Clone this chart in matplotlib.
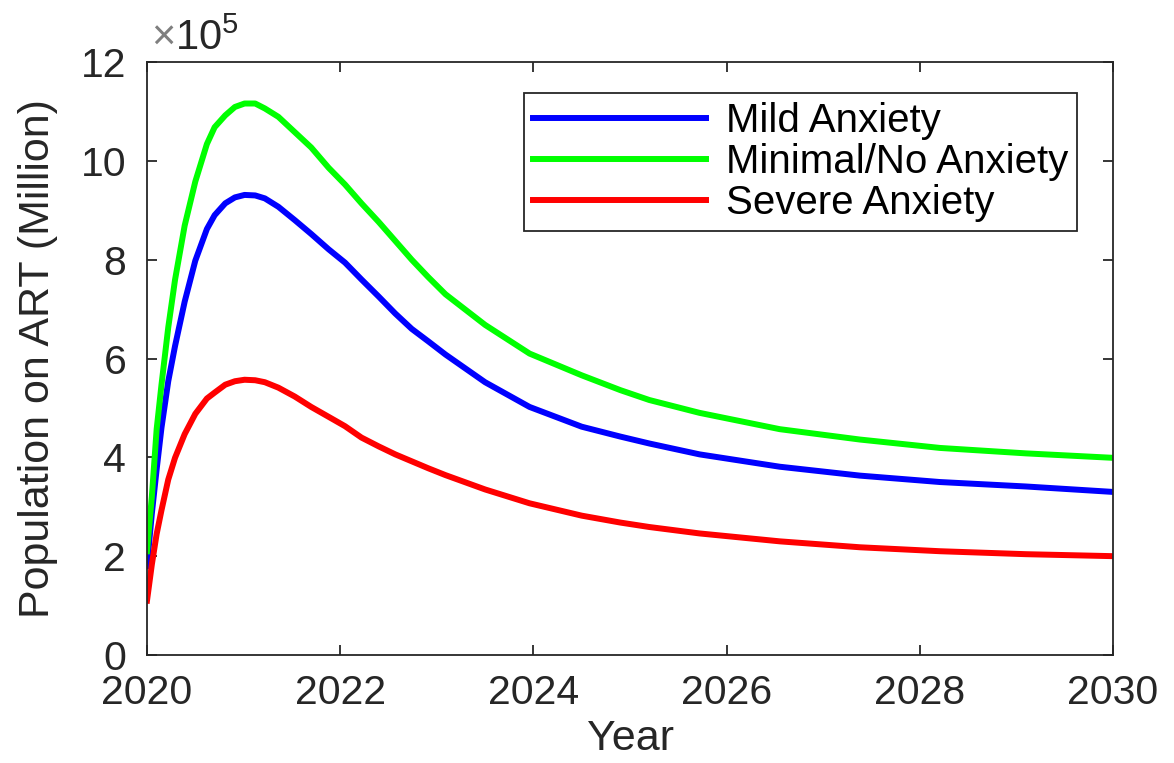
import matplotlib
matplotlib.use("Agg")
import matplotlib.pyplot as plt

plt.rcParams['font.family'] = ['Liberation Sans', 'DejaVu Sans']
plt.rcParams['mathtext.fontset'] = 'custom'
plt.rcParams['mathtext.rm'] = 'Liberation Sans'

# years sampled along the curves
years = [2020.0, 2020.05, 2020.1, 2020.15, 2020.22, 2020.29, 2020.39, 2020.5,
         2020.62, 2020.7, 2020.81, 2020.91, 2021.01, 2021.12, 2021.22, 2021.36,
         2021.53, 2021.7, 2021.88, 2022.05, 2022.22, 2022.4, 2022.57, 2022.74,
         2022.91, 2023.09, 2023.5, 2023.96, 2024.5, 2024.9, 2025.2, 2025.72,
         2026.55, 2027.38, 2028.21, 2029.1, 2030.0]

# population on ART, in units of 1e5
mild = [1.80, 2.86, 3.76, 4.60, 5.54, 6.25, 7.15, 7.98,
        8.62, 8.90, 9.14, 9.26, 9.31, 9.30, 9.24, 9.07,
        8.80, 8.52, 8.21, 7.94, 7.60, 7.25, 6.91, 6.60,
        6.35, 6.08, 5.52, 5.02, 4.62, 4.42, 4.28, 4.06,
        3.81, 3.63, 3.50, 3.41, 3.30]
minimal = [2.10, 3.20, 4.57, 5.47, 6.63, 7.59, 8.69, 9.58,
           10.34, 10.68, 10.92, 11.09, 11.16, 11.16, 11.06, 10.89,
           10.58, 10.27, 9.86, 9.52, 9.14, 8.76, 8.38, 8.00,
           7.65, 7.30, 6.68, 6.10, 5.66, 5.36, 5.16, 4.90,
           4.57, 4.36, 4.19, 4.08, 3.99]
severe = [1.10, 1.83, 2.45, 2.93, 3.55, 3.99, 4.47, 4.88,
          5.19, 5.31, 5.47, 5.54, 5.57, 5.56, 5.52, 5.41,
          5.23, 5.02, 4.82, 4.63, 4.40, 4.22, 4.06, 3.92,
          3.78, 3.64, 3.35, 3.07, 2.82, 2.68, 2.59, 2.46,
          2.30, 2.18, 2.10, 2.04, 2.00]

series = [("Mild Anxiety", mild, "#0000ff"),
          ("Minimal/No Anxiety", minimal, "#00ff00"),
          ("Severe Anxiety", severe, "#ff0000")]

dark = "#262626"
W, H = 1174, 763

fig = plt.figure(figsize=(W / 100, H / 100), dpi=100)
ax = fig.add_axes([147 / W, 1 - 655 / H, (1113 - 147) / W, (655 - 62) / H])

for label, vals, color in series:
    ax.plot(years, vals, color=color, lw=4.3, label=label)

ax.set_xlim(2020, 2030)
ax.set_ylim(0, 12)
ax.set_xticks([2020, 2022, 2024, 2026, 2028, 2030])
ax.set_yticks([0, 2, 4, 6, 8, 10, 12])

for s in ax.spines.values():
    s.set_color(dark)
    s.set_linewidth(1.3)
ax.tick_params(direction="in", length=7, width=1.3, colors=dark,
               labelsize=29.5, top=True, right=True)
ax.tick_params(axis="x", pad=14)
ax.tick_params(axis="y", pad=15)

ax.set_xlabel("Year", fontsize=31, color=dark, labelpad=5)
ax.set_ylabel("Population on ART (Million)", fontsize=31, color=dark, labelpad=16)

# exponent marker above the y axis
fig.text(151 / W, 1 - 50 / H, "\u00d7", fontsize=30, color="#7f7f7f",
         ha="left", va="baseline")
fig.text(175 / W, 1 - 50 / H, r"10$^{\mathregular{5}}$", fontsize=30, color=dark,
         ha="left", va="baseline")

leg = ax.legend(loc="upper right", bbox_to_anchor=(0.963, 0.948), borderaxespad=0,
                fontsize=29, handlelength=4.3, handletextpad=0.5,
                labelspacing=0.08, borderpad=0.22, fancybox=False, framealpha=1)
leg.get_frame().set_edgecolor(dark)
leg.get_frame().set_linewidth(1.3)
for t in leg.get_texts():
    t.set_color("black")

fig.savefig("out.png", dpi=100)
